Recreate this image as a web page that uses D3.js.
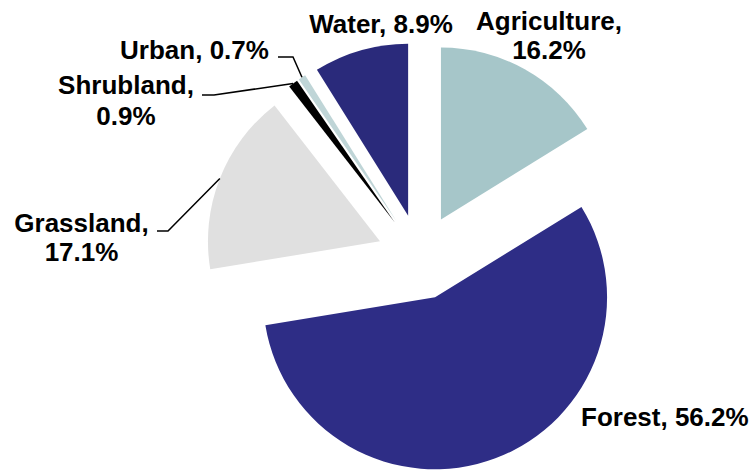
<!DOCTYPE html>
<html>
<head>
<meta charset="utf-8">
<script src="https://cdn.jsdelivr.net/npm/d3@7/dist/d3.min.js"></script>
<style>
  html, body { margin: 0; padding: 0; background: #ffffff; }
  svg { display: block; }
  text { font-family: "Liberation Sans", Arial, Helvetica, sans-serif; font-weight: bold; fill: #000; }
</style>
</head>
<body>
<svg id="chart" width="753" height="470"></svg>
<script>
// ---- data ----
const categories = ["Agriculture", "Forest", "Grassland", "Shrubland", "Urban", "Water"];
const shares = [16.2, 56.2, 17.1, 0.9, 0.7, 8.9];
const labelText = ["Agriculture, 16.2%", "Forest, 56.2%", "Grassland, 17.1%", "Shrubland, 0.9%", "Urban, 0.7%", "Water, 8.9%"];
const colors = ["#a6c6c9", "#2e2d86", "#e0e0e0", "#000000", "#bfd5d7", "#2a2a7b"];

// ---- layout ----
const W = 753, H = 470;
const cx = 420, cy = 257, R = 172, explode = 43;
const fontSize = 26;

// label layout (centre x, baselines) and leader elbows
const labelLayout = {
  "Agriculture": { x: 549, y: [29.5, 59], lines: ["Agriculture,", "16.2%"], anchor: "middle" },
  "Forest":      { x: 581, y: [426], lines: ["Forest, 56.2%"], anchor: "start" },
  "Grassland":   { x: 81.5, y: [231.5, 260.5], lines: ["Grassland,", "17.1%"], anchor: "middle",
                   leader: [[157, 231], [168, 231]] },
  "Shrubland":   { x: 126, y: [94, 125], lines: ["Shrubland,", "0.9%"], anchor: "middle",
                   leader: [[202, 95], [214, 95]] },
  "Urban":       { x: 194.5, y: [59], lines: ["Urban, 0.7%"], anchor: "middle",
                   leader: [[278, 57], [293, 57]] },
  "Water":       { x: 381, y: [33], lines: ["Water, 8.9%"], anchor: "middle" }
};

const svg = d3.select("#chart");
const data = categories.map((c, i) => ({ name: c, value: shares[i], color: colors[i] }));

const pie = d3.pie().sort(null).value(d => d.value).startAngle(0).endAngle(2 * Math.PI);
const arcs = pie(data);
const arc = d3.arc().innerRadius(0).outerRadius(R);

const g = svg.append("g").attr("transform", `translate(${cx},${cy})`);

function offset(d) {
  const m = (d.startAngle + d.endAngle) / 2;
  return [explode * Math.sin(m), -explode * Math.cos(m)];
}

g.selectAll("path.slice")
  .data(arcs)
  .enter()
  .append("path")
  .attr("class", "slice")
  .attr("d", arc)
  .attr("fill", d => d.data.color)
  .attr("transform", d => { const o = offset(d); return `translate(${o[0]},${o[1]})`; });

// leader lines
arcs.forEach(d => {
  const L = labelLayout[d.data.name];
  if (!L.leader) return;
  const m = (d.startAngle + d.endAngle) / 2;
  const o = offset(d);
  const px = cx + o[0] + R * Math.sin(m);
  const py = cy + o[1] - R * Math.cos(m);
  const pts = [L.leader[0], L.leader[1], [px, py]];
  svg.append("path")
    .attr("d", d3.line()(pts))
    .attr("fill", "none")
    .attr("stroke", "#000")
    .attr("stroke-width", 1.5);
});

// labels
categories.forEach(name => {
  const L = labelLayout[name];
  const t = svg.append("text")
    .attr("text-anchor", L.anchor)
    .style("font-size", fontSize + "px");
  L.lines.forEach((ln, i) => {
    t.append("tspan").attr("x", L.x).attr("y", L.y[i]).text(ln);
  });
});
</script>
</body>
</html>
